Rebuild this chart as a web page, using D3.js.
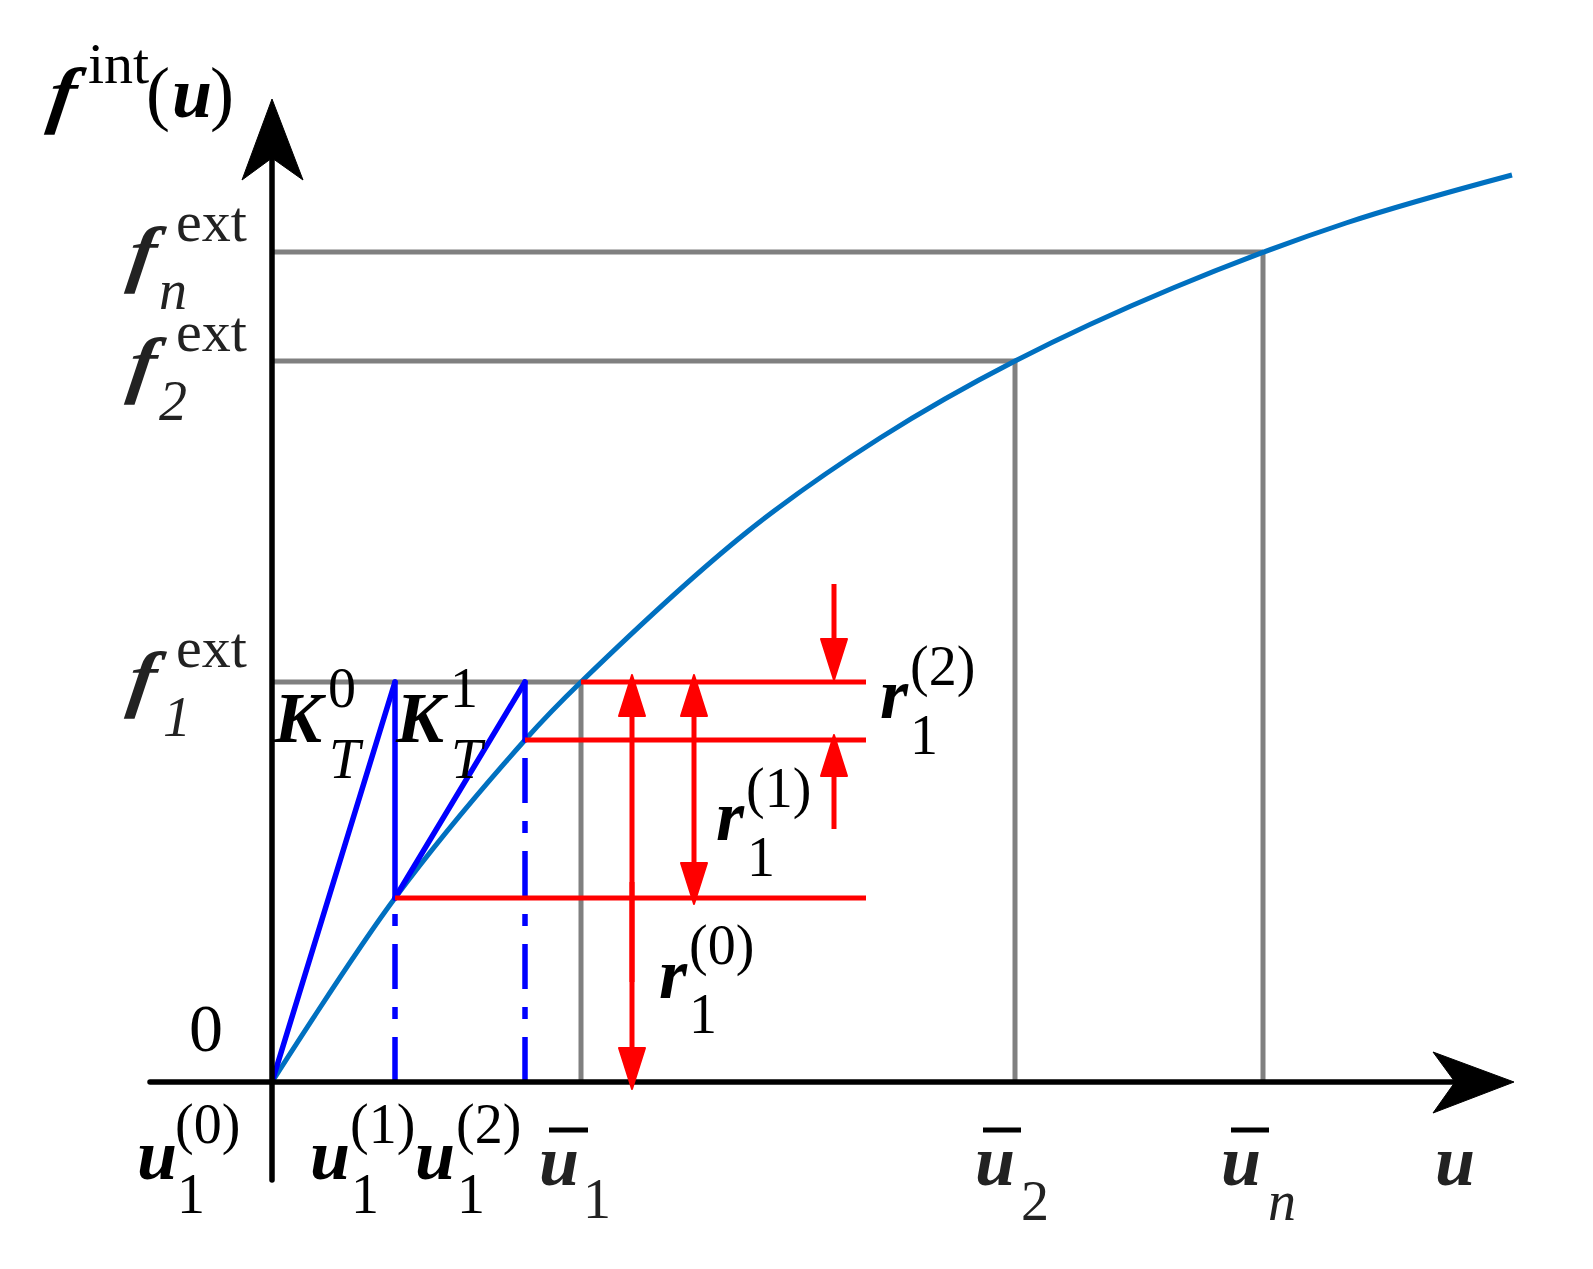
<!DOCTYPE html>
<html>
<head>
<meta charset="utf-8">
<style>
  body { margin: 0; background: #fff; }
  text { font-family: "Liberation Serif", serif; }
</style>
<script src="https://cdn.jsdelivr.net/npm/d3@7"></script>
</head>
<body>
<svg id="chart" width="1593" height="1269"></svg>
<script>
// curve, in axis units
const curveU = [0, 123, 253, 309, 475, 608, 743, 901, 1074, 1240];
const curveF = [0, 184, 342, 400, 550, 644, 721, 794, 859, 907];

const uBar = [309, 743, 991];
const fExt = [400, 721, 830];
const uIter = [0, 123, 253];
const fIter = [0, 184, 342];
const rightEnd = 594;
const tangentTop = 400;

// u position, start level, tip level
const arrowU = [360, 360, 422, 422, 562, 562];
const arrowFrom = [100, 200, 300, 300, 498, 253];
const arrowTo = [407, -7, 407, 178, 402, 347];

const svg = d3.select("#chart");
const x = d3.scaleLinear().domain([0, 1000]).range([272, 1272]);
const y = d3.scaleLinear().domain([0, 1000]).range([1082, 82]);

const gray = "#808080", blue = "#0000ff", red = "#ff0000", curveCol = "#0070c0", ink = "#222";

function seg(x1, y1, x2, y2, col, w) {
  return svg.append("line")
    .attr("x1", x1).attr("y1", y1).attr("x2", x2).attr("y2", y2)
    .attr("stroke", col).attr("stroke-width", w);
}

// gray guides
uBar.forEach((u, i) => {
  seg(x(u), y(0), x(u), y(fExt[i]), gray, 5);
  seg(x(0), y(fExt[i]), x(u), y(fExt[i]), gray, 5);
});

// the curve
const line = d3.line().x((d) => x(d[0])).y((d) => y(d[1])).curve(d3.curveCatmullRom);
svg.append("path")
  .attr("d", line(d3.zip(curveU, curveF)))
  .attr("fill", "none")
  .attr("stroke", curveCol)
  .attr("stroke-width", 5);

// tangent steps
[0, 1].forEach((i) => {
  seg(x(uIter[i]), y(fIter[i]), x(uIter[i + 1]), y(tangentTop), blue, 5.5).attr("stroke-linecap", "round");
  seg(x(uIter[i + 1]), y(tangentTop), x(uIter[i + 1]), y(fIter[i + 1]), blue, 5.5).attr("stroke-linecap", "round");
  seg(x(uIter[i + 1]), y(0), x(uIter[i + 1]), y(fIter[i + 1]), blue, 5.5)
    .attr("stroke-dasharray", "45 18 12 18");
});

// axes
seg(150, y(0), 1458, y(0), "#000", 5.5).attr("stroke-linecap", "round");
seg(x(0), 1180, x(0), 160, "#000", 5.5).attr("stroke-linecap", "round");
svg.append("path").attr("d", "M1514,1082L1433,1052L1455,1082L1433,1113Z")
  .attr("fill", "#000").attr("stroke", "#000").attr("stroke-width", 1).attr("stroke-linejoin", "round");
svg.append("path").attr("d", "M272,99L242,180L272,158L303,180Z")
  .attr("fill", "#000").attr("stroke", "#000").attr("stroke-width", 1).attr("stroke-linejoin", "round");

// residual levels
seg(x(uBar[0]), y(fExt[0]), x(rightEnd), y(fExt[0]), red, 5);
seg(x(uIter[2]), y(fIter[2]), x(rightEnd), y(fIter[2]), red, 5);
seg(x(uIter[1]), y(fIter[1]), x(rightEnd), y(fIter[1]), red, 5);

// residual arrows
arrowU.forEach((u, i) => {
  const tip = y(arrowTo[i]);
  const dir = Math.sign(y(arrowFrom[i]) - tip); // 1 points up, -1 points down
  seg(x(u), y(arrowFrom[i]), x(u), tip + dir * 30, red, 5);
  const px = x(u);
  svg.append("path")
    .attr("d", `M${px},${tip}L${px - 13},${tip + dir * 41}L${px + 13},${tip + dir * 41}Z`)
    .attr("fill", red).attr("stroke", red).attr("stroke-width", 2).attr("stroke-linejoin", "round");
});

// text
function label(px, py, str, size, style, col) {
  return svg.append("text")
    .attr("x", px).attr("y", py)
    .attr("font-size", size)
    .attr("font-weight", style === "bi" ? "bold" : "normal")
    .attr("font-style", style === "bi" || style === "i" ? "italic" : "normal")
    .attr("fill", col || "#000")
    .text(str);
}
// the bold italic f leans a bit further in the original
function fLabel(px, py, col) {
  label(0, 0, "f", 74, "bi", col)
    .attr("transform", `translate(${px},${py}) skewX(-8) scale(1.1,1)`);
}
const big = 72, small = 56, sup = 58;

fLabel(46, 119);
label(88, 83, "int", sup, "");
label(146, 117, "(", big, "");
label(172, 117, "u", big, "bi");
label(210, 117, ")", big, "");

fLabel(126, 278, ink);
label(176, 241, "ext", sup, "", ink);
label(159, 309, "n", small, "i", ink);

fLabel(126, 389, ink);
label(176, 351, "ext", sup, "", ink);
label(159, 420, "2", small, "i", ink);

fLabel(126, 703, ink);
label(176, 667, "ext", sup, "", ink);
label(163, 736, "1", small, "i", ink);

label(274, 742, "K", big, "bi");
label(328, 707, "0", small, "");
label(329, 778, "T", small, "i");
label(396, 742, "K", big, "bi");
label(450, 707, "1", small, "");
label(451, 778, "T", small, "i");

label(189, 1051, "0", 68, "");

label(137, 1179, "u", big, "bi");
label(175, 1143, "(0)", small, "");
label(177, 1213, "1", small, "");
label(310, 1179, "u", big, "bi");
label(350, 1143, "(1)", small, "");
label(351, 1213, "1", small, "");
label(415, 1179, "u", big, "bi");
label(456, 1143, "(2)", small, "");
label(457, 1213, "1", small, "");

// u bars
[[549, 588], [983, 1021], [1231, 1269]].forEach((b) => seg(b[0], 1130, b[1], 1130, "#000", 5));
label(539, 1185, "u", big, "bi", ink);
label(583, 1218, "1", small, "", ink);
label(975, 1185, "u", big, "bi", ink);
label(1021, 1220, "2", small, "", ink);
label(1221, 1185, "u", big, "bi", ink);
label(1268, 1220, "n", small, "i", ink);
label(1435, 1185, "u", big, "bi", ink);

label(880, 718, "r", big, "bi");
label(910, 685, "(2)", small, "");
label(910, 754, "1", small, "");
label(716, 840, "r", big, "bi");
label(746, 807, "(1)", small, "");
label(747, 876, "1", small, "");
label(659, 998, "r", big, "bi");
label(689, 964, "(0)", small, "");
label(689, 1033, "1", small, "");
</script>
</body>
</html>
